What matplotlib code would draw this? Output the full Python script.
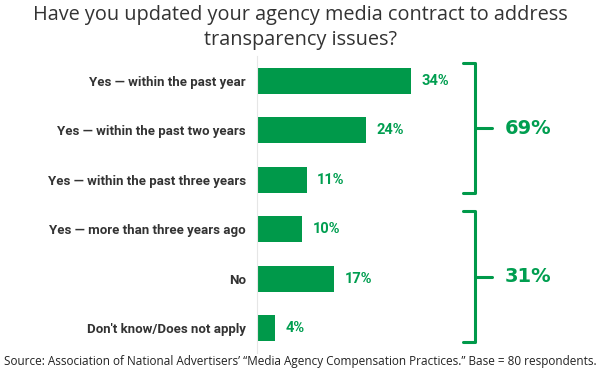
import matplotlib
matplotlib.use('Agg')
import matplotlib.pyplot as plt

# data
categories = ['Yes \u2014 within the past year',
              'Yes \u2014 within the past two years',
              'Yes \u2014 within the past three years',
              'Yes \u2014 more than three years ago',
              'No',
              "Don't know/Does not apply"]
values = [34, 24, 11, 10, 17, 4]
group_labels = ['69%', '31%']
group_rows = [(0, 2), (3, 5)]

bar_green = '#00994a'
text_green = '#009e50'
label_gray = '#333333'

fig = plt.figure(figsize=(6, 3.75), dpi=100)
ax = fig.add_axes([257/600, 1-353/375, 343/600, 297/375])

ax.barh(range(len(values)), values, height=0.53, color=bar_green)
ax.set_xlim(0, 343/4.53)
ax.set_ylim(5.5, -0.5)

# value labels
for i, v in enumerate(values):
    ax.text(v + 2.3, i, '%d%%' % v, va='center', ha='left', color=text_green,
            fontsize=10.5, fontweight='bold', family='Roboto')

# category labels
ax.set_yticks(range(len(categories)))
ax.set_yticklabels(categories, fontsize=9.5, fontweight='bold', color=label_gray,
                   family='Roboto')
ax.tick_params(axis='y', length=0, pad=8)
ax.set_xticks([])
for s in ['top', 'right', 'bottom']:
    ax.spines[s].set_visible(False)
ax.spines['left'].set_color('#e6e6e6')
ax.spines['left'].set_linewidth(0.8)

# brackets
bx = 48.1
for (r0, r1), lab in zip(group_rows, group_labels):
    top = r0 - 0.36
    bot = r1 + 0.27
    mid = (top + bot) / 2
    ax.plot([45.5, bx, bx, 45.5], [top, top, bot, bot], color=bar_green, lw=2.2,
            solid_joinstyle='round', solid_capstyle='round', clip_on=False)
    ax.plot([bx, 51.9], [mid, mid], color=bar_green, lw=2.2,
            solid_capstyle='round', clip_on=False)
    ax.text(54.6, mid, lab, va='center', ha='left', color=text_green,
            fontsize=14, fontweight='bold', family='DejaVu Sans', clip_on=False)

# title and source
fig.text(0.5, 1-15/375, 'Have you updated your agency media contract to address',
         ha='center', va='center', fontsize=14.3, color='#333333', family='Open Sans')
fig.text(0.5, 1-40/375, 'transparency issues?',
         ha='center', va='center', fontsize=14.3, color='#333333', family='Open Sans')
fig.text(0.5, 1-362/375,
         'Source: Association of National Advertisers\u2019 \u201cMedia Agency Compensation Practices.\u201d Base = 80 respondents.',
         ha='center', va='center', fontsize=8.5, color='#222222', family='Open Sans')

plt.savefig('out.png', dpi=100)
